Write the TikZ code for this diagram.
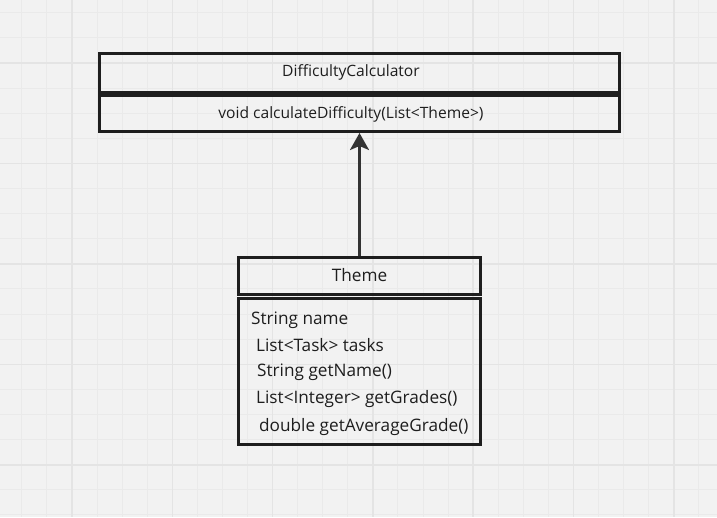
\documentclass[tikz,border=0pt]{standalone}
\usepackage{fontspec}
\setmainfont{Open Sans}
\usetikzlibrary{arrows.meta}
\definecolor{canvas}{HTML}{F2F2F2}
\definecolor{minorgrid}{HTML}{EAEAEA}
\definecolor{majorgrid}{HTML}{E4E4E4}
\definecolor{boxline}{HTML}{1E1E1E}
\definecolor{arrowline}{HTML}{333333}
\tikzset{
  classbox/.style={draw=boxline,line width=3pt,inner sep=0pt},
  member/.style={anchor=west,inner sep=0pt,font=\fontsize{17.2pt}{20pt}\selectfont,text=boxline},
  opname/.style={anchor=center,inner sep=0pt,font=\fontsize{15.6pt}{18pt}\selectfont,text=boxline},
  assoc/.style={-{Stealth[length=17pt,width=19pt,inset=4pt]},draw=arrowline,line width=2.5pt}
}
\begin{document}
\begin{tikzpicture}[x=1pt,y=-1pt]
      \fill[canvas] (0,0) rectangle (717,517);
      \useasboundingbox (0,0) rectangle (717,517);
      % grid
      \foreach \i in {0,...,27} \draw[minorgrid,line width=1pt] ({21.8+25.075*\i},0) -- ++(0,517);
      \foreach \i in {0,...,20} \draw[minorgrid,line width=1pt] (0,{12.8+25.1*\i}) -- ++(717,0);
      \foreach \i in {0,...,6} \draw[majorgrid,line width=1.5pt] ({72+100.3*\i},0) -- ++(0,517);
      \foreach \i in {0,...,4} \draw[majorgrid,line width=1.5pt] (0,{63+100.5*\i}) -- ++(717,0);

      \node[classbox,minimum width=520pt,minimum height=38.5pt] (dchead) at (359.5,72.75) {};
      \node[classbox,minimum width=520pt,minimum height=36.5pt] (dcbody) at (359.5,113.25) {};
      \node[opname] (dcname) at (351,72) {DifficultyCalculator};
      \node[opname] (dcop) at (351,114) {void calculateDifficulty(List<Theme>)};

      \node[classbox,minimum width=242pt,minimum height=36.5pt] (themehead) at (359.5,275.75) {};
      \node[classbox,minimum width=242pt,minimum height=145.5pt] (themebody) at (359.5,371.25) {};
      \node[member,anchor=center] (themename) at (359.5,275) {Theme};
      \node[member] (attr1) at (251,320) {String name};
      \node[member] (attr2) at (256,345) {List<Task> tasks};
      \node[member] (op1) at (257,372) {String getName()};
      \node[member] (op2) at (256,399) {List<Integer> getGrades()};
      \node[member] (op3) at (259,427) {double getAverageGrade()};

      \draw[assoc] (themehead.north) -- (dcbody.south);
    \end{tikzpicture}
\end{document}
